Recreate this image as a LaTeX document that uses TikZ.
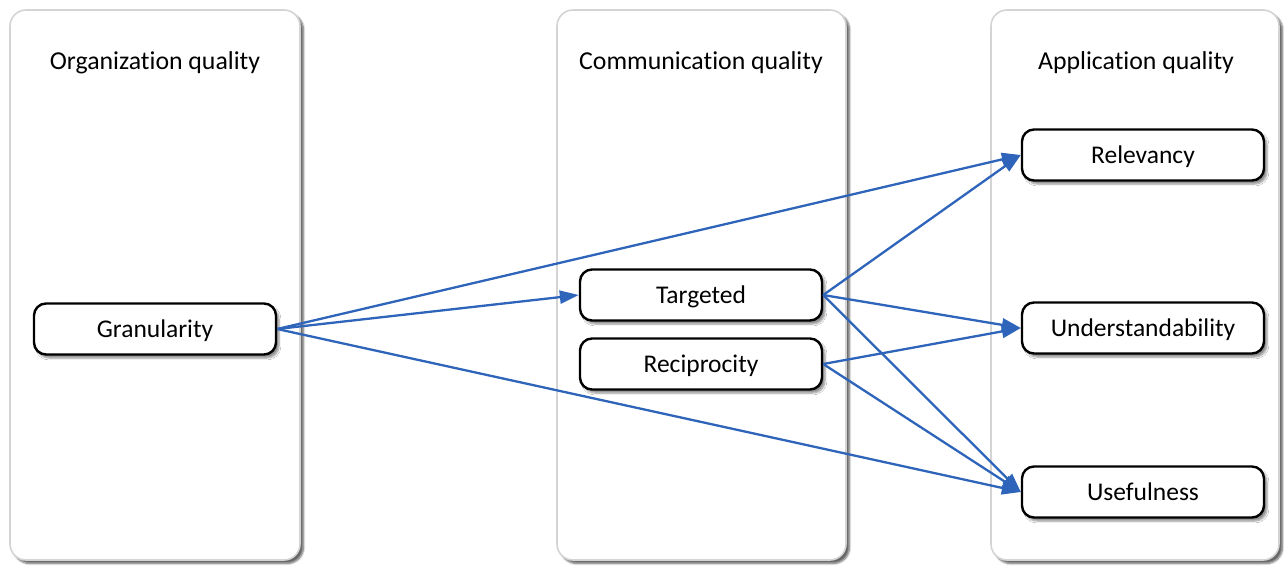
\documentclass[tikz,border=0pt]{standalone}
\usepackage{fontspec}
\setmainfont{Carlito}[Ligatures=NoCommon]
\usetikzlibrary{arrows.meta,shadows.blur}
\definecolor{linkblue}{RGB}{46,100,186}
\definecolor{panelgray}{RGB}{212,212,212}
\tikzset{
  panel/.style={draw=panelgray, line width=1.6pt, fill=white, rounded corners=16pt,
    blur shadow={shadow xshift=3.5pt, shadow yshift=-3.5pt, shadow blur steps=6, shadow opacity=60}},
  paneltitle/.style={font=\fontsize{25.8}{30}\selectfont, text=black, anchor=center},
  factor/.style={draw=black, line width=2.4pt, fill=white, rounded corners=12pt,
    minimum width=242pt, minimum height=51pt, inner sep=0pt,
    text height=21pt, text depth=5pt,
    font=\fontsize{25.5}{30}\selectfont,
    blur shadow={shadow xshift=3pt, shadow yshift=-3.5pt, shadow blur steps=5, shadow opacity=45}},
  link/.style={draw=linkblue, line width=2.3pt, -{Triangle[length=19pt,width=13pt]}}
}
\begin{document}
\begin{tikzpicture}[x=1pt,y=-1pt]
  \useasboundingbox (0,0) rectangle (1284,566);
  % three columns
  \draw[panel] (10,10) rectangle (300,560);
  \draw[panel] (557,10) rectangle (846,560);
  \draw[panel] (991,10) rectangle (1279,560);
  \node[paneltitle] (torg) at (155,63) {Organization quality};
  \node[paneltitle] (tcom) at (701,63) {Communication quality};
  \node[paneltitle] (tapp) at (1136,63) {Application quality};
  % factors
  \node[factor] (gran) at (155,329) {Granularity};
  \node[factor] (targ) at (701,295) {Targeted};
  \node[factor] (reci) at (701,364) {Reciprocity};
  \node[factor] (rele) at (1143,155) {Relevancy};
  \node[factor] (unde) at (1143,328) {Understandability};
  \node[factor] (usef) at (1143,492) {Usefulness};
  % relations
  \draw[link] (gran.east) -- (rele.west);
  \draw[link] (gran.east) -- (targ.west);
  \draw[link] (gran.east) -- (usef.west);
  \draw[link] (targ.east) -- (rele.west);
  \draw[link] (targ.east) -- (unde.west);
  \draw[link] (targ.east) -- (usef.west);
  \draw[link] (reci.east) -- (unde.west);
  \draw[link] (reci.east) -- (usef.west);
\end{tikzpicture}
\end{document}
